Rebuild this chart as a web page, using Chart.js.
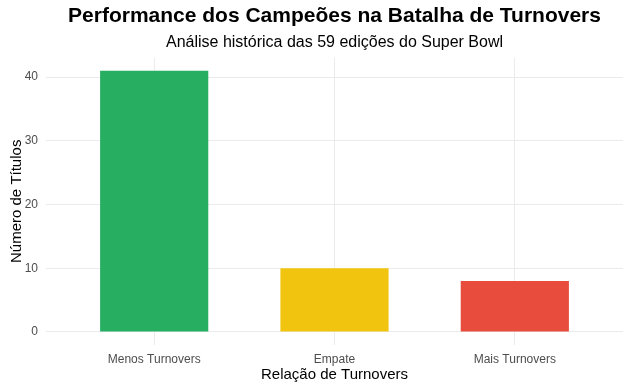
<!DOCTYPE html>
<html>
<head>
<meta charset="utf-8">
<script src="https://cdn.jsdelivr.net/npm/chart.js@4"></script>
<style>
  html, body { margin: 0; padding: 0; background: #ffffff; }
  #wrap { width: 631px; height: 389px; }
</style>
</head>
<body>
<div id="wrap"><canvas id="c" width="631" height="389"></canvas></div>
<script>
const categories = ['Menos Turnovers', 'Empate', 'Mais Turnovers'];
const titles = [41, 10, 8];
const barColors = ['#27AE60', '#F1C40F', '#E74C3C'];
const yTickValues = [0, 10, 20, 30, 40];
const xPositions = [1, 2, 3];

const FONT = "'Liberation Sans', Arial, sans-serif";
const yMax = Math.max(...titles);
const pad = yMax * 0.05;

new Chart(document.getElementById('c'), {
  type: 'bar',
  data: {
    datasets: [{
      data: categories.map((c, i) => ({ x: xPositions[i], y: titles[i] })),
      backgroundColor: barColors,
      borderWidth: 0,
      barPercentage: 0.6,
      categoryPercentage: 1.0
    }]
  },
  options: {
    responsive: false,
    animation: false,
    layout: { padding: { left: 0, right: 8, top: 0, bottom: 0 } },
    plugins: {
      legend: { display: false },
      tooltip: { enabled: false },
      title: {
        display: true,
        fullSize: false,
        text: 'Performance dos Campeões na Batalha de Turnovers',
        color: '#000000',
        font: { family: FONT, size: 21, weight: 'bold' },
        padding: { top: 3.4, bottom: 4.3 }
      },
      subtitle: {
        display: true,
        fullSize: false,
        text: 'Análise histórica das 59 edições do Super Bowl',
        color: '#000000',
        font: { family: FONT, size: 16 },
        padding: { top: 0, bottom: 5.5 }
      }
    },
    scales: {
      x: {
        type: 'linear',
        offset: false,
        min: 0.4,
        max: 3.6,
        afterBuildTicks: (s) => { s.ticks = xPositions.map(v => ({ value: v })); },
        afterFit: (s) => { s.height = 44; },
        ticks: {
          callback: (v) => categories[xPositions.indexOf(v)] || '',
          color: '#4d4d4d',
          font: { family: FONT, size: 12 },
          padding: 7,
          maxRotation: 0,
          autoSkip: false
        },
        grid: { color: '#ebebeb', lineWidth: 1, drawTicks: false, offset: false },
        border: { display: false },
        title: {
          display: true,
          text: 'Relação de Turnovers',
          color: '#000000',
          font: { family: FONT, size: 15 },
          padding: { top: 0, bottom: 5 }
        }
      },
      y: {
        type: 'linear',
        min: -pad,
        max: yMax + pad,
        afterBuildTicks: (s) => { s.ticks = yTickValues.map(v => ({ value: v })); },
        afterFit: (s) => { s.width = 46; },
        ticks: {
          color: '#4d4d4d',
          font: { family: FONT, size: 12 },
          padding: 8
        },
        grid: { color: '#ebebeb', lineWidth: 1, drawTicks: false },
        border: { display: false },
        title: {
          display: true,
          text: 'Número de Títulos',
          color: '#000000',
          font: { family: FONT, size: 15 },
          padding: { top: 7.5, bottom: 4 }
        }
      }
    }
  }
});
</script>
</body>
</html>
